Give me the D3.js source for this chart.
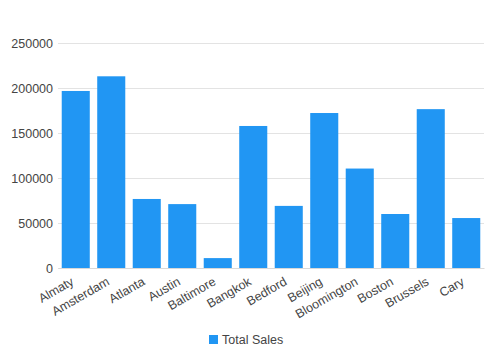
<!DOCTYPE html>
<html>
<head>
<meta charset="utf-8">
<script src="https://cdn.jsdelivr.net/npm/d3@7"></script>
<style>
  body { margin: 0; background: #fff; }
  svg { font-family: "Liberation Sans", Arial, sans-serif; }
</style>
</head>
<body>
<div id="chart"></div>
<script>
const cities = ["Almaty", "Amsterdam", "Atlanta", "Austin", "Baltimore", "Bangkok", "Bedford", "Beijing", "Bloomington", "Boston", "Brussels", "Cary"];
const totalSales = [196700, 213000, 76700, 71000, 11000, 157800, 69000, 172200, 110500, 60000, 176500, 55500];
const yTicks = [0, 50000, 100000, 150000, 200000, 250000];

const width = 500;
const height = 351;
const margin = { top: 43, right: 16, bottom: 83, left: 58 };
const graphWidth = width - margin.left - margin.right;
const graphHeight = height - margin.top - margin.bottom;

const x = d3.scaleBand()
  .domain(cities)
  .range([0, graphWidth])
  .paddingInner(0.21)
  .paddingOuter(0.105);

const y = d3.scaleLinear()
  .domain([0, 250000])
  .range([graphHeight, 0]);

const svg = d3.select("#chart")
  .append("svg")
  .attr("width", width)
  .attr("height", height);

const g = svg.append("g")
  .attr("transform", `translate(${margin.left},${margin.top})`);

// grid + y labels
const yAxis = g.append("g")
  .call(d3.axisLeft(y).tickValues(yTicks).tickSize(-graphWidth).tickPadding(5).tickFormat(d3.format("d")));
yAxis.select(".domain").remove();
yAxis.selectAll(".tick line").attr("stroke", "#e3e3e3");
yAxis.selectAll(".tick text").attr("fill", "#444").style("font-size", "12.5px");

// bars
g.selectAll(".bar")
  .data(cities)
  .enter()
  .append("rect")
  .attr("class", "bar")
  .attr("x", (d) => x(d))
  .attr("y", (d, i) => y(totalSales[i]))
  .attr("width", x.bandwidth())
  .attr("height", (d, i) => graphHeight - y(totalSales[i]))
  .attr("fill", "#2196f3");

// x axis
const xAxis = g.append("g")
  .attr("transform", `translate(0,${graphHeight})`)
  .call(d3.axisBottom(x).tickSize(0));
xAxis.select(".domain").attr("stroke", "#d9d9d9");
xAxis.selectAll(".tick text")
  .attr("fill", "#444")
  .style("font-size", "12.5px")
  .attr("text-anchor", "end")
  .attr("y", 0)
  .attr("dy", 0)
  .attr("transform", "translate(-1,16) rotate(-30)");

// legend
const legend = svg.append("g").attr("transform", "translate(209,335)");
legend.append("rect").attr("width", 9).attr("height", 9).attr("fill", "#2196f3");
legend.append("text")
  .attr("x", 13)
  .attr("y", 9)
  .attr("fill", "#444")
  .style("font-size", "12.5px")
  .text("Total Sales");
</script>
</body>
</html>
